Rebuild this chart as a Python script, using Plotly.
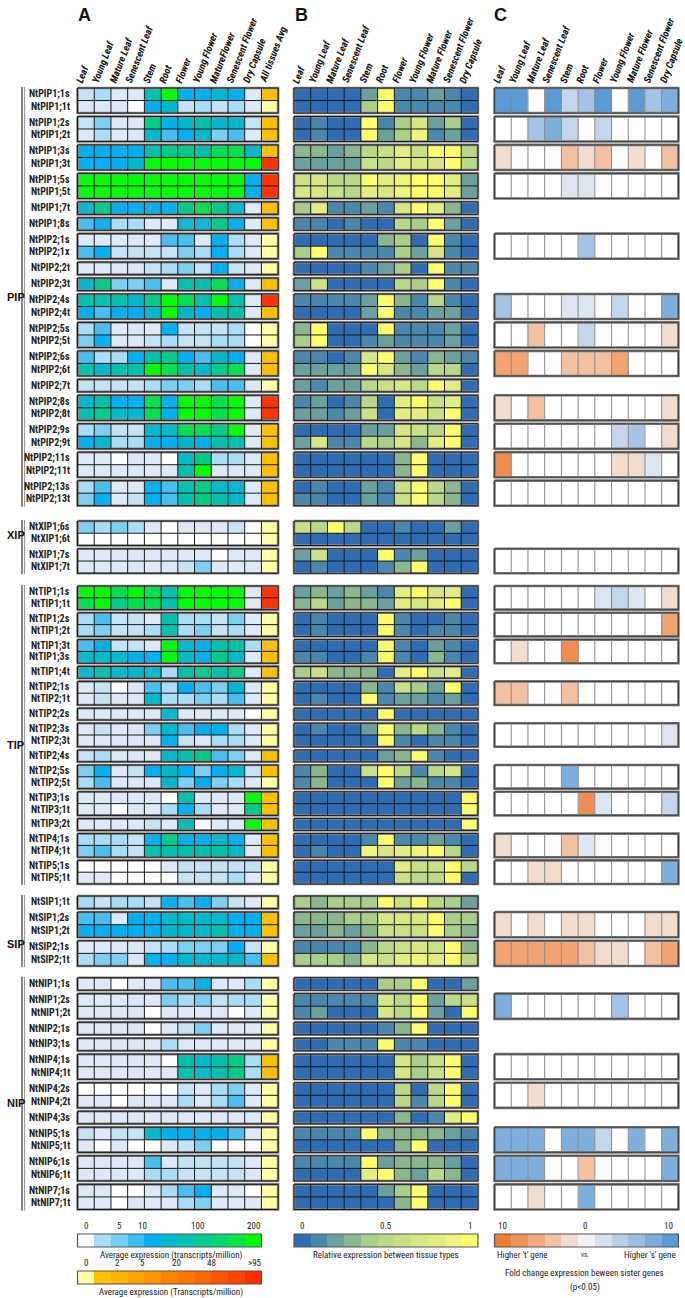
import plotly.graph_objects as go

W, H = 685, 1298

# ---------------- data ----------------
families = ["PIP", "XIP", "TIP", "SIP", "NIP"]

tissues_A = ["Leaf", "Young Leaf", "Mature Leaf", "Senescent Leaf", "Stem", "Root", "Flower",
             "Young Flower", "MatureFlower", "Senescent Flower", "Dry Capsule", "All tissues Avg"]
tissues_B = ["Leaf", "Young Leaf", "Mature Leaf", "Senescent Leaf", "Stem", "Root", "Flower",
             "Young Flower", "Mature Flower", "Senescent Flower", "Dry Capsule"]
tissues_C = tissues_B

gene_groups = [
    [["NtPIP1;1s", "NtPIP1;1t"], ["NtPIP1;2s", "NtPIP1;2t"], ["NtPIP1;3s", "NtPIP1;3t"],
     ["NtPIP1;5s", "NtPIP1;5t"], ["NtPIP1;7t"], ["NtPIP1;8s"], ["NtPIP2;1s", "NtPIP2;1x"],
     ["NtPIP2;2t"], ["NtPIP2;3t"], ["NtPIP2;4s", "NtPIP2;4t"], ["NtPIP2;5s", "NtPIP2;5t"],
     ["NtPIP2;6s", "NtPIP2;6t"], ["NtPIP2;7t"], ["NtPIP2;8s", "NtPIP2;8t"],
     ["NtPIP2;9s", "NtPIP2;9t"], ["NtPIP2;11s", "NtPIP2;11t"], ["NtPIP2;13s", "NtPIP2;13t"]],
    [["NtXIP1;6s", "NtXIP1;6t"], ["NtXIP1;7s", "NtXIP1;7t"]],
    [["NtTIP1;1s", "NtTIP1;1t"], ["NtTIP1;2s", "NtTIP1;2t"], ["NtTIP1;3t", "NtTIP1;3s"],
     ["NtTIP1;4t"], ["NtTIP2;1s", "NtTIP2;1t"], ["NtTIP2;2s"], ["NtTIP2;3s", "NtTIP2;3t"],
     ["NtTIP2;4s"], ["NtTIP2;5s", "NtTIP2;5t"], ["NtTIP3;1s", "NtTIP3;1t"], ["NtTIP3;2t"],
     ["NtTIP4;1s", "NtTIP4;1t"], ["NtTIP5;1s", "NtTIP5;1t"]],
    [["NtSIP1;1t"], ["NtSIP1;2s", "NtSIP1;2t"], ["NtSIP2;1s", "NtSIP2;1t"]],
    [["NtNIP1;1s"], ["NtNIP1;2s", "NtNIP1;2t"], ["NtNIP2;1s"], ["NtNIP3;1s"],
     ["NtNIP4;1s", "NtNIP4;1t"], ["NtNIP4;2s", "NtNIP4;2t"], ["NtNIP4;3s"],
     ["NtNIP5;1s", "NtNIP5;1t"], ["NtNIP6;1s", "NtNIP6;1t"], ["NtNIP7;1s", "NtNIP7;1t"]],
]

# Panel A: expression class per tissue (0 = none ... 11 = highest), gene order as above
expr_A = [
    [2, 3, 1, 1, 8, 11, 6, 6, 7, 6, 1], [1, 1, 1, 0, 6, 7, 2, 3, 2, 3, 1],
    [2, 4, 1, 1, 9, 6, 7, 8, 7, 7, 2], [1, 3, 1, 1, 7, 5, 6, 7, 4, 5, 1],
    [6, 6, 6, 6, 8, 9, 9, 8, 10, 10, 7], [6, 6, 6, 7, 11, 11, 11, 11, 11, 11, 11],
    [11, 11, 11, 11, 11, 11, 11, 11, 11, 11, 6], [11, 11, 11, 11, 11, 11, 11, 11, 11, 11, 6],
    [7, 9, 6, 6, 6, 6, 9, 10, 9, 7, 1],
    [5, 6, 3, 3, 1, 1, 7, 7, 9, 6, 1],
    [1, 1, 1, 1, 1, 5, 5, 1, 6, 3, 1], [5, 6, 2, 2, 2, 2, 4, 3, 6, 3, 1],
    [1, 1, 1, 1, 2, 3, 4, 2, 6, 2, 1],
    [7, 9, 4, 4, 5, 1, 8, 8, 10, 6, 1],
    [8, 8, 8, 7, 9, 11, 10, 8, 11, 8, 1], [6, 5, 6, 6, 7, 11, 7, 6, 8, 8, 1],
    [3, 5, 1, 1, 1, 6, 2, 2, 2, 3, 0], [4, 6, 1, 1, 2, 3, 2, 2, 3, 3, 0],
    [5, 3, 3, 6, 8, 9, 6, 5, 7, 6, 1], [8, 7, 8, 8, 11, 10, 8, 7, 9, 10, 1],
    [2, 2, 2, 2, 3, 4, 4, 3, 5, 5, 1],
    [7, 8, 6, 6, 10, 6, 11, 11, 10, 11, 1], [8, 9, 7, 7, 10, 6, 11, 11, 10, 11, 1],
    [3, 4, 2, 2, 7, 7, 10, 10, 9, 11, 1], [6, 7, 3, 3, 6, 6, 7, 6, 8, 8, 1],
    [1, 1, 0, 1, 1, 0, 7, 9, 3, 3, 1], [1, 1, 1, 1, 1, 1, 8, 11, 1, 1, 1],
    [3, 5, 1, 1, 6, 5, 8, 9, 7, 7, 1], [4, 6, 1, 2, 6, 5, 8, 9, 8, 7, 1],
    # XIP
    [4, 3, 4, 3, 1, 0, 1, 1, 1, 2, 0], [0, 0, 0, 0, 0, 0, 0, 0, 0, 0, 0],
    [1, 1, 1, 1, 1, 1, 1, 1, 0, 1, 1], [1, 1, 1, 1, 1, 1, 2, 4, 1, 1, 1],
    # TIP
    [11, 11, 10, 11, 10, 8, 11, 11, 11, 11, 1], [10, 11, 9, 10, 10, 8, 11, 11, 11, 11, 1],
    [3, 5, 2, 2, 1, 8, 3, 3, 2, 4, 1], [3, 4, 2, 2, 3, 8, 3, 4, 2, 3, 1],
    [5, 6, 2, 2, 1, 11, 7, 6, 8, 8, 3], [7, 7, 7, 6, 6, 11, 7, 6, 9, 7, 1],
    [7, 8, 7, 7, 7, 3, 8, 9, 8, 9, 1],
    [1, 2, 0, 1, 5, 3, 6, 5, 4, 7, 1], [1, 2, 1, 1, 7, 3, 3, 4, 3, 5, 1],
    [1, 1, 1, 1, 1, 7, 1, 1, 1, 1, 0],
    [1, 2, 1, 1, 4, 7, 5, 6, 6, 3, 1], [1, 1, 1, 1, 1, 6, 2, 1, 3, 3, 1],
    [2, 3, 1, 1, 1, 7, 8, 9, 5, 4, 1],
    [4, 6, 1, 2, 6, 7, 6, 4, 6, 7, 2], [3, 5, 1, 1, 1, 7, 4, 6, 4, 3, 1],
    [1, 1, 1, 1, 1, 0, 8, 1, 1, 1, 11], [1, 1, 0, 1, 1, 3, 6, 3, 1, 1, 9],
    [1, 1, 1, 1, 2, 1, 8, 0, 1, 1, 11],
    [3, 3, 3, 2, 6, 9, 6, 6, 7, 6, 1], [4, 5, 3, 2, 8, 8, 8, 8, 8, 7, 1],
    [0, 0, 0, 0, 0, 1, 2, 2, 2, 2, 2], [1, 1, 0, 0, 0, 0, 2, 2, 2, 3, 1],
    # SIP
    [3, 2, 3, 3, 2, 6, 5, 6, 4, 2, 1],
    [5, 5, 1, 6, 6, 7, 7, 7, 7, 6, 6], [6, 6, 6, 6, 6, 7, 7, 7, 8, 6, 6],
    [1, 1, 1, 1, 2, 3, 4, 4, 4, 6, 2], [3, 4, 4, 1, 6, 6, 7, 7, 7, 7, 5],
    # NIP
    [1, 1, 0, 1, 1, 5, 5, 6, 1, 1, 3],
    [1, 1, 1, 1, 1, 4, 3, 4, 2, 3, 3], [1, 1, 1, 1, 0, 1, 1, 1, 1, 0, 1],
    [1, 1, 1, 1, 0, 1, 2, 4, 1, 1, 1],
    [1, 1, 1, 1, 1, 3, 1, 1, 1, 1, 1],
    [1, 1, 1, 1, 1, 0, 8, 7, 8, 9, 3], [1, 1, 1, 1, 1, 1, 8, 7, 8, 9, 3],
    [0, 0, 0, 0, 0, 0, 2, 1, 3, 4, 1], [1, 1, 0, 1, 1, 1, 3, 1, 3, 5, 1],
    [1, 1, 1, 1, 1, 1, 1, 1, 1, 1, 1],
    [2, 1, 2, 2, 7, 6, 6, 6, 6, 5, 1], [1, 0, 1, 0, 0, 1, 2, 4, 0, 0, 0],
    [1, 1, 1, 1, 5, 1, 2, 2, 2, 2, 1], [1, 1, 1, 1, 3, 3, 2, 2, 2, 2, 1],
    [1, 1, 0, 0, 1, 3, 5, 6, 1, 1, 0], [1, 1, 0, 1, 1, 1, 3, 4, 1, 1, 1],
]

# Panel A last column: all-tissue average class (0 pale, 1 orange, 2 red)
avg_A = [1, 0, 1, 1, 1, 2, 2, 2, 1, 1, 0, 0, 0, 1, 2, 1, 0, 0, 1, 1, 0, 2, 2, 1, 1, 1, 1, 1, 1,
         0, 0, 0, 0,
         2, 2, 0, 0, 1, 1, 1, 0, 0, 0, 0, 0, 1, 1, 0, 1, 1, 1, 1, 1, 0, 0,
         0, 1, 1, 0, 1,
         0, 0, 0, 0, 0, 1, 1, 0, 0, 0, 0, 0, 0, 0, 0, 0]

# Panel B: relative expression between tissues (0 = 0 ... 10 = 1)
rel_B = [
    [0, 0, 0, 0, 2, 10, 1, 1, 2, 1, 0], [0, 0, 0, 0, 4, 10, 1, 1, 1, 1, 0],
    [0, 1, 0, 0, 10, 1, 4, 7, 2, 4, 0], [0, 1, 0, 0, 10, 2, 4, 9, 1, 2, 0],
    [3, 3, 2, 3, 5, 6, 8, 6, 10, 10, 5], [2, 2, 2, 2, 6, 5, 8, 7, 7, 10, 5],
    [6, 7, 5, 5, 10, 8, 9, 10, 10, 8, 2], [7, 7, 6, 5, 8, 7, 9, 10, 10, 8, 2],
    [4, 8, 1, 1, 2, 1, 7, 10, 8, 3, 0],
    [1, 1, 0, 1, 0, 0, 5, 4, 10, 2, 0],
    [0, 0, 0, 0, 0, 3, 4, 0, 10, 1, 0], [4, 10, 1, 1, 1, 1, 4, 2, 7, 1, 0],
    [0, 0, 0, 0, 1, 2, 4, 0, 10, 1, 1],
    [2, 6, 0, 0, 0, 0, 5, 4, 10, 1, 0],
    [1, 1, 1, 1, 2, 10, 3, 1, 5, 1, 0], [0, 0, 0, 0, 2, 10, 1, 1, 2, 2, 0],
    [3, 10, 0, 0, 0, 10, 1, 1, 1, 2, 0], [4, 10, 0, 0, 1, 2, 1, 1, 1, 2, 0],
    [1, 1, 0, 1, 7, 10, 2, 1, 3, 2, 1], [2, 2, 2, 2, 10, 7, 3, 2, 5, 5, 0],
    [2, 1, 2, 2, 5, 6, 7, 5, 10, 8, 0],
    [1, 2, 0, 1, 5, 0, 8, 10, 6, 8, 0], [2, 2, 1, 2, 6, 0, 8, 8, 6, 10, 0],
    [0, 0, 0, 0, 2, 2, 7, 6, 5, 10, 0], [2, 7, 1, 1, 5, 4, 7, 3, 8, 10, 0],
    [0, 0, 0, 0, 0, 0, 3, 10, 0, 0, 0], [0, 0, 0, 0, 0, 0, 3, 10, 0, 0, 0],
    [0, 1, 0, 0, 2, 1, 6, 10, 5, 3, 0], [1, 1, 0, 0, 2, 1, 6, 10, 5, 3, 0],
    # XIP
    [6, 5, 10, 5, 0, 0, 1, 0, 0, 2, 0], [0, 0, 0, 0, 0, 0, 0, 0, 0, 0, 0],
    [2, 6, 0, 0, 0, 10, 1, 2, 0, 0, 0], [0, 1, 0, 0, 0, 1, 3, 10, 0, 0, 0],
    # TIP
    [2, 3, 2, 3, 2, 1, 8, 10, 7, 8, 0], [3, 5, 2, 3, 3, 2, 8, 7, 8, 10, 0],
    [0, 1, 0, 0, 0, 10, 1, 0, 0, 1, 0], [0, 1, 0, 0, 0, 10, 1, 0, 1, 1, 0],
    [0, 0, 0, 0, 0, 10, 1, 0, 2, 1, 0], [1, 1, 0, 0, 1, 10, 1, 0, 3, 1, 0],
    [4, 6, 3, 3, 3, 0, 8, 10, 6, 8, 0],
    [0, 0, 0, 0, 3, 1, 6, 4, 2, 10, 0], [0, 1, 0, 0, 10, 1, 2, 2, 1, 2, 0],
    [0, 0, 0, 0, 0, 10, 0, 0, 0, 0, 0],
    [0, 1, 0, 0, 2, 10, 3, 5, 3, 1, 0], [0, 0, 0, 0, 0, 10, 1, 0, 1, 1, 0],
    [0, 0, 0, 0, 0, 2, 3, 10, 1, 0, 0],
    [1, 3, 0, 0, 6, 10, 5, 1, 5, 7, 0], [1, 3, 0, 0, 0, 10, 2, 3, 1, 1, 0],
    [0, 0, 0, 0, 0, 0, 0, 0, 0, 0, 10], [0, 0, 0, 0, 0, 0, 0, 0, 0, 0, 10],
    [0, 0, 0, 0, 0, 0, 0, 0, 0, 0, 10],
    [0, 0, 0, 0, 1, 10, 1, 1, 2, 1, 0], [0, 1, 0, 0, 9, 7, 8, 9, 10, 5, 0],
    [0, 0, 0, 0, 0, 0, 8, 6, 6, 10, 5], [0, 0, 0, 0, 0, 0, 6, 5, 5, 10, 0],
    # SIP
    [4, 3, 4, 4, 4, 10, 6, 10, 5, 4, 2],
    [3, 3, 3, 4, 4, 7, 7, 7, 10, 4, 4], [2, 2, 3, 2, 3, 6, 6, 6, 10, 4, 3],
    [1, 1, 1, 1, 3, 5, 6, 7, 6, 10, 3], [4, 4, 4, 3, 7, 6, 8, 9, 8, 10, 5],
    # NIP
    [0, 0, 0, 0, 0, 4, 4, 10, 0, 0, 2],
    [1, 1, 1, 1, 1, 7, 5, 10, 2, 5, 6], [1, 2, 0, 0, 0, 7, 5, 10, 2, 0, 10],
    [0, 0, 0, 0, 0, 1, 3, 10, 0, 0, 0],
    [0, 0, 1, 1, 1, 10, 1, 1, 0, 0, 0],
    [0, 0, 0, 0, 0, 0, 7, 4, 6, 10, 0], [0, 0, 0, 0, 0, 0, 7, 4, 6, 10, 0],
    [0, 0, 0, 0, 0, 0, 5, 0, 5, 10, 0], [0, 0, 0, 0, 0, 0, 5, 1, 5, 10, 0],
    [0, 0, 0, 0, 0, 0, 3, 0, 1, 8, 10],
    [1, 1, 1, 1, 10, 3, 3, 3, 3, 2, 1], [0, 0, 0, 0, 0, 0, 3, 10, 0, 0, 0],
    [1, 1, 1, 1, 10, 2, 3, 3, 3, 2, 0], [0, 0, 0, 0, 8, 10, 3, 2, 5, 3, 0],
    [0, 0, 0, 0, 0, 2, 4, 10, 0, 0, 0], [0, 0, 0, 0, 0, 0, 3, 10, 0, 0, 0],
]

# Panel C: fold change between sister genes per group (-5 higher 't' ... +5 higher 's'); None = no box
fold_C = [
    [5, 5, 0, 5, 2, 3, 5, 0, 5, 3, 4], [0, 0, 3, 4, 2, 0, 2, 0, 0, 0, 0],
    [-1, 0, 0, 0, -2, -1, -2, 0, -1, 0, -2], [0, 0, 0, 0, 1, 1, 0, 0, 0, 0, 0],
    None, None, [0, 0, 0, 0, 0, 3, 0, 0, 0, 0, 0], None, None,
    [3, 0, 0, 0, 1, 1, 0, 2, 0, 0, 4], [0, 0, -2, 0, 0, 2, 0, 0, 0, 0, -1],
    [-3, -3, 0, 0, -2, -2, -2, -3, 0, 0, 0], None,
    [-1, 0, -2, 0, 0, 0, 0, 0, 0, 0, -1], [0, 0, 0, 0, 0, 0, 0, 2, 3, 0, -1],
    [-4, 0, 0, 0, 0, 0, 0, -1, -1, 1, 0], [0, 0, 0, 0, 0, 0, 0, 0, 0, 0, 0],
    # XIP
    None, [0, 0, 0, 0, 0, 0, 0, 0, 0, 0, 0],
    # TIP
    [0, 0, 0, 0, 0, 0, 1, 2, 1, 0, -1], [0, 0, 0, 0, 0, 0, 0, 0, 0, 0, -3],
    [0, -1, 0, 0, -4, 0, 0, 0, 0, 0, 0], None,
    [-2, -2, 0, 0, -2, 0, 0, 0, 0, 0, 0], None,
    [0, 0, 0, 0, 0, 0, 0, 0, 0, 0, 1], None,
    [0, 0, 0, 0, 4, 0, 0, 0, 0, 0, 0], [0, 0, 0, 0, 0, -4, 1, 0, 0, 0, 2], None,
    [-1, 0, 0, 0, -2, 1, 0, 0, 0, 0, 0], [0, 0, -1, -1, 0, 0, 0, 0, 0, 0, 4],
    # SIP
    None, [-1, 0, -1, 0, -1, -1, 0, 0, 0, -1, -1], [-3, -3, -3, -3, -3, -2, -1, -1, 0, -2, -3],
    # NIP
    None, [4, 0, 0, 0, 0, 0, 0, 3, 0, 0, 0], None, None,
    [0, 0, 0, 0, 0, 0, 0, 0, 0, 0, 0], [0, 0, -1, 0, 0, 0, 0, 0, 0, 0, 0], None,
    [4, 4, 4, 0, 4, 4, 2, 0, 4, 0, 4], [4, 4, 4, 0, 0, -2, 0, 0, 0, 0, 4],
    [0, 0, -1, 0, 0, 4, 0, 0, 0, 0, 0],
]

# legend keys
legA_ticks = ["0", "5", "10", "100", "200"]
legA_tickpos = [0.5, 2.5, 3.9, 7.2, 10.5]
legAvg_ticks = ["0", "2", "5", "20", "48", ">95"]
legAvg_tickpos = [0.5, 2.4, 3.9, 5.9, 8.0, 10.6]
legB_ticks = ["0", "0.5", "1"]
legB_tickpos = [0.5, 5.5, 10.5]
legC_ticks = ["10", "0", "10"]
legC_tickpos = [0.5, 5.4, 10.4]

# ---------------- colours ----------------
colA = ["#ffffff", "#dde9f6", "#c6e3f5", "#a9dcf5", "#7dcff2", "#48bfef", "#00b0f0",
        "#00b9cc", "#00c2ac", "#00cc88", "#00e050", "#00ff00"]
colAvg = ["#ffffa6", "#ffc000", "#ff3300"]
colB = ["#2e6db4", "#4a87ac", "#6aa09e", "#8bb78f", "#a9cf8a", "#bad88a", "#c9e087",
        "#d7e786", "#e3ed82", "#eff47d", "#ffff6e"]
colC = ["#ed7d31", "#ef8c4e", "#f1a472", "#f2c1a2", "#f2dccd", "#ffffff", "#dce6f2",
        "#c4d6ec", "#a5c4e5", "#7fb0dd", "#5b9bd5"]
legColA = ["#ffffff", "#a9dcf5", "#75cdf1", "#3fbdef", "#00b0f0", "#00bbc9", "#00c3ac",
           "#00cb90", "#00d670", "#00e644", "#00ff00"]
legColAvg = ["#ffffa6", "#ffc000", "#ffb200", "#ffa300", "#ff9400", "#ff8500", "#ff7600",
             "#ff6600", "#ff5500", "#ff4400", "#ff2f00"]
legColC = ["#ed7d31", "#ef935a", "#f2aa80", "#f3c1a3", "#f1dccf", "#f2f2f2", "#d6e1ef",
           "#b8cfe8", "#9bbde1", "#7caad9", "#5b9bd5"]

FONT = "Liberation Sans Narrow, Arial Narrow, Roboto Condensed, Liberation Sans, sans-serif"


def discrete(cols):
    n = len(cols)
    cs = []
    for i, c in enumerate(cols):
        cs.append([i / n, c])
        cs.append([(i + 1) / n, c])
    return cs


def px_x(p):
    return p / W


def px_y(p):
    return 1 - p / H


# ---------------- layout of rows (y axis in page pixels) ----------------
fam_top = [88.0, 521.0, 586.0, 896.0, 977.7]
fam_bot = [505.7, 573.3, 884.0, 966.0, 1209.5]
GAP_RATIO = 0.27

rows = []      # (y0, y1, gene_index or None)
groups = []    # (y0, y1, n_genes, group_index)
fam_spans = []
gene_names = []
gidx = 0
gcount = 0
y = fam_top[0]
for fi, fam in enumerate(gene_groups):
    n_rows = sum(len(g) for g in fam)
    unit = (fam_bot[fi] - fam_top[fi]) / (n_rows + GAP_RATIO * (len(fam) - 1))
    if fi > 0:
        rows.append((y, fam_top[fi], None))
    y = fam_top[fi]
    for gi, grp in enumerate(fam):
        if gi > 0:
            rows.append((y, y + GAP_RATIO * unit, None))
            y += GAP_RATIO * unit
        g0 = y
        for name in grp:
            rows.append((y, y + unit, gidx))
            gene_names.append((name, y + unit / 2))
            gidx += 1
            y += unit
        groups.append((g0, y, len(grp), gcount))
        gcount += 1
    fam_spans.append((fam_top[fi], y))

edges = [r[0] for r in rows] + [rows[-1][1]]
zA = [expr_A[r[2]] if r[2] is not None else [None] * 11 for r in rows]
zAvg = [[avg_A[r[2]]] if r[2] is not None else [None] for r in rows]
zB = [rel_B[r[2]] if r[2] is not None else [None] * 11 for r in rows]

c_edges = [groups[0][0]]
zC = []
prev = groups[0][0]
for (g0, g1, n, gi) in groups:
    if g0 > prev + 1e-9:
        zC.append([None] * 11)
        c_edges.append(g0)
    f = fold_C[gi]
    zC.append([v + 5 for v in f] if f is not None else [None] * 11)
    c_edges.append(g1)
    prev = g1

Y_TOP, Y_BOT = 84.0, 1214.0

cellw = 16.72
xpad = 0.12
panels = {  # name: (left px, ncols)
    "A": (77.5, 12),
    "B": (294.0, 11),
    "C": (494.5, 11),
}


def x_domain(left, n):
    return [px_x(left - xpad * cellw), px_x(left + (n + xpad) * cellw)]


fig = go.Figure()

# heatmaps
fig.add_trace(go.Heatmap(z=zA, x=list(range(12)), y=edges, colorscale=discrete(colA),
                         zmin=-0.5, zmax=len(colA) - 0.5, showscale=False, hoverinfo="skip",
                         xaxis="x", yaxis="y"))
fig.add_trace(go.Heatmap(z=zAvg, x=[11, 12], y=edges, colorscale=discrete(colAvg),
                         zmin=-0.5, zmax=len(colAvg) - 0.5, showscale=False, hoverinfo="skip",
                         xaxis="x", yaxis="y"))
fig.add_trace(go.Heatmap(z=zB, x=list(range(12)), y=edges, colorscale=discrete(colB),
                         zmin=-0.5, zmax=len(colB) - 0.5, showscale=False, hoverinfo="skip",
                         xaxis="x2", yaxis="y"))
fig.add_trace(go.Heatmap(z=zC, x=list(range(12)), y=c_edges, colorscale=discrete(colC),
                         zmin=-0.5, zmax=len(colC) - 0.5, showscale=False, hoverinfo="skip",
                         xaxis="x3", yaxis="y"))


def grid_lines(ncols, with_rows, only_fold):
    inner_x, inner_y, out_x, out_y = [], [], [], []
    for (g0, g1, n, gi) in groups:
        if only_fold and fold_C[gi] is None:
            continue
        for c in range(1, ncols):
            inner_x += [c, c, None]
            inner_y += [g0, g1, None]
        if with_rows:
            h = (g1 - g0) / n
            for k in range(1, n):
                inner_x += [0, ncols, None]
                inner_y += [g0 + k * h, g0 + k * h, None]
        out_x += [0, ncols, ncols, 0, 0, None]
        out_y += [g0, g0, g1, g1, g0, None]
    return inner_x, inner_y, out_x, out_y


for ax, ncols, rowsflag, fold_only, inner_col, outer_col in [
        ("x", 12, True, False, "#1a1a1a", "#8a8a8a"),
        ("x2", 11, True, False, "#1a1a1a", "#8a8a8a"),
        ("x3", 11, False, True, "#8a8a8a", "#7a7a7a")]:
    ix, iy, ox, oy = grid_lines(ncols, rowsflag, fold_only)
    fig.add_trace(go.Scatter(x=ox, y=oy, mode="lines", line=dict(color=outer_col, width=2.6),
                             hoverinfo="skip", showlegend=False, xaxis=ax, yaxis="y"))
    if ax == "x3":
        fig.add_trace(go.Scatter(x=ix, y=iy, mode="lines", line=dict(color=inner_col, width=1),
                                 hoverinfo="skip", showlegend=False, xaxis=ax, yaxis="y"))
        fig.add_trace(go.Scatter(x=ox, y=oy, mode="lines", line=dict(color="#444444", width=1),
                                 hoverinfo="skip", showlegend=False, xaxis=ax, yaxis="y"))
    else:
        fig.add_trace(go.Scatter(x=ix + ox, y=iy + oy, mode="lines",
                                 line=dict(color=inner_col, width=1),
                                 hoverinfo="skip", showlegend=False, xaxis=ax, yaxis="y"))

# ---------------- legends (keys) ----------------
leg_specs = [  # axis suffix, left px, top px, colours, ticks, tickpos
    ("4", 77.5, 1234, legColA, legA_ticks, legA_tickpos),
    ("5", 77.5, 1271, legColAvg, legAvg_ticks, legAvg_tickpos),
    ("6", 294.0, 1234, colB, legB_ticks, legB_tickpos),
    ("7", 494.5, 1234, legColC, legC_ticks, legC_tickpos),
]
LEG_H = 13.0
annotations = []
for suf, left, top, cols, ticks, tpos in leg_specs:
    xa, ya = "x" + suf, "y" + suf
    fig.add_trace(go.Heatmap(z=[list(range(11))], x=list(range(12)), y=[0, 1],
                             colorscale=discrete(cols), zmin=-0.5, zmax=10.5, showscale=False,
                             hoverinfo="skip", xaxis=xa, yaxis=ya))
    fig.add_trace(go.Scatter(x=[0, 11, 11, 0, 0], y=[0, 0, 1, 1, 0], mode="lines",
                             line=dict(color="#555555", width=1.2), hoverinfo="skip",
                             showlegend=False, xaxis=xa, yaxis=ya))
    fig.update_layout(**{
        "xaxis" + suf: dict(domain=x_domain(left, 11), range=[-xpad, 11 + xpad], visible=False,
                            fixedrange=True, anchor=ya),
        "yaxis" + suf: dict(domain=[px_y(top + LEG_H + 1), px_y(top - 1)],
                            range=[1 + 1 / LEG_H, -1 / LEG_H], visible=False,
                            fixedrange=True, anchor=xa),
    })
    for t, p in zip(ticks, tpos):
        annotations.append(dict(text=t, x=px_x(left + p * cellw), xref="paper",
                                y=px_y(top - 1), yref="paper",
                                xanchor="center", yanchor="bottom", showarrow=False,
                                font=dict(family=FONT, size=9, color="#222")))

legend_texts = [  # text, left px of key, position in swatch units, y px, anchor
    ("Average expression (transcripts/million)", 77.5, 5.6, 1255, "center"),
    ("Average expression (Transcripts/million)", 77.5, 5.6, 1292, "center"),
    ("Relative expression between tissue types", 294.0, 5.5, 1255, "center"),
    ("Higher 't' gene", 494.5, 0.0, 1255, "left"),
    ("vs.", 494.5, 5.4, 1255, "center"),
    ("Higher 's' gene", 494.5, 11.0, 1255, "right"),
    ("Fold change expression beween sister genes", 494.5, 5.4, 1273, "center"),
    ("(p<0.05)", 494.5, 5.4, 1287, "center"),
]
for t, left, xp, yp, anc in legend_texts:
    annotations.append(dict(text=t, x=px_x(left + xp * cellw), xref="paper", y=px_y(yp),
                            yref="paper", xanchor=anc, yanchor="middle", showarrow=False,
                            font=dict(family=FONT, size=9 if t != "vs." else 7, color="#222")))

# ---------------- labels ----------------
for name, yc in gene_names:
    annotations.append(dict(text="<b>" + name + "</b>", x=px_x(72), xref="paper", y=yc,
                            yref="y", xanchor="right", yanchor="middle", showarrow=False,
                            font=dict(family=FONT, size=10, color="#222")))

fam_label_y = [297, 535, 745, 944, 1103]
for fam, yl in zip(families, fam_label_y):
    annotations.append(dict(text="<b>" + fam + "</b>", x=px_x(16), xref="paper",
                            y=yl, yref="y", xanchor="center", yanchor="middle",
                            showarrow=False, font=dict(family="Liberation Sans, Arial", size=11,
                                                       color="#111")))

for letter, xp in [("A", 76), ("B", 293), ("C", 492)]:
    annotations.append(dict(text="<b>" + letter + "</b>", x=px_x(xp), xref="paper",
                            y=px_y(3), yref="paper", xanchor="left", yanchor="top",
                            showarrow=False, font=dict(family="Liberation Sans, Arial", size=18,
                                                       color="#111")))

for pname, labels in [("A", tissues_A), ("B", tissues_B), ("C", tissues_C)]:
    left = panels[pname][0]
    for i, lab in enumerate(labels):
        annotations.append(dict(text="<b><i>" + lab + "</i></b>",
                                x=px_x(left + i * cellw - 6.5), xref="paper",
                                y=px_y(87), yref="paper", xanchor="left", yanchor="bottom",
                                textangle=-69, showarrow=False,
                                font=dict(family=FONT, size=10, color="#111")))

# family bars
shapes = []
for (f0, f1) in fam_spans:
    shapes.append(dict(type="line", xref="paper", yref="y", x0=px_x(22), x1=px_x(22),
                       y0=f0 - 1, y1=f1 + 1, line=dict(color="#555555", width=1.4)))
    shapes.append(dict(type="line", xref="paper", yref="y", x0=px_x(24.5), x1=px_x(24.5),
                       y0=f0 - 1, y1=f1 + 1, line=dict(color="#9a9a9a", width=1.2)))

fig.update_layout(
    width=W, height=H, margin=dict(l=0, r=0, t=0, b=0),
    paper_bgcolor="white", plot_bgcolor="rgba(0,0,0,0)",
    showlegend=False,
    xaxis=dict(domain=x_domain(*panels["A"]), range=[-xpad, 12 + xpad], visible=False,
               fixedrange=True, anchor="y"),
    xaxis2=dict(domain=x_domain(*panels["B"]), range=[-xpad, 11 + xpad], visible=False,
                fixedrange=True, anchor="y"),
    xaxis3=dict(domain=x_domain(*panels["C"]), range=[-xpad, 11 + xpad], visible=False,
                fixedrange=True, anchor="y"),
    yaxis=dict(domain=[px_y(Y_BOT), px_y(Y_TOP)], range=[Y_BOT, Y_TOP], visible=False,
               fixedrange=True, anchor="x"),
    annotations=annotations,
    shapes=shapes,
)

fig.write_html("out.html", config={"displayModeBar": False},
               post_script="document.body.style.margin='0';"
                           "document.body.style.overflow='hidden';")
